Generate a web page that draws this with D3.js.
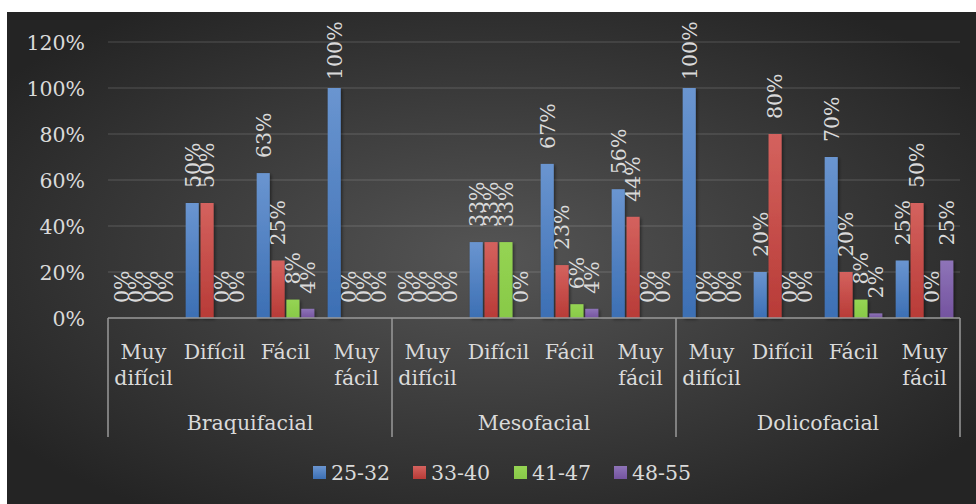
<!DOCTYPE html>
<html>
<head>
<meta charset="utf-8">
<script src="https://cdn.jsdelivr.net/npm/d3@7"></script>
<style>
  html, body { margin: 0; padding: 0; background: #ffffff; }
  svg { display: block; }
  svg text { font-family: "DejaVu Serif", serif; fill: #dadada; }
</style>
</head>
<body>
<svg id="chart" width="976" height="504"></svg>
<script>
// Facial types (outer groups) and difficulty levels (inner categories)
const groups = ["Braquifacial", "Mesofacial", "Dolicofacial"];
const levels = [["Muy", "difícil"], ["Difícil"], ["Fácil"], ["Muy", "fácil"]];
// Age ranges (series)
const series = ["25-32", "33-40", "41-47", "48-55"];
const seriesColors = [
  ["#6a95d0", "#3c6fb4"],
  ["#d4625e", "#b83b37"],
  ["#95d453", "#88c948"],
  ["#8e74b8", "#74539f"]
];
// Percentages per age range, listed group by group, level by level
const s2532 = [0, 50, 63, 100,  0, 33, 67, 56,  100, 20, 70, 25];
const s3340 = [0, 50, 25, 0,    0, 33, 23, 44,  0, 80, 20, 50];
const s4147 = [0, 0, 8, 0,      0, 33, 6, 0,    0, 0, 8, 0];
const s4855 = [0, 0, 4, 0,      0, 0, 4, 0,     0, 0, 2, 25];
const yTicks = [0, 20, 40, 60, 80, 100, 120];

const allSeries = [s2532, s3340, s4147, s4855];
const FONT = '"DejaVu Serif", serif';
const FS = 20.5;

const svg = d3.select("#chart");
const defs = svg.append("defs");

// Dark radial background
const bg = defs.append("radialGradient").attr("id", "bgGrad")
  .attr("cx", "50%").attr("cy", "50%").attr("r", "62%");
bg.append("stop").attr("offset", "0%").attr("stop-color", "#555555");
bg.append("stop").attr("offset", "100%").attr("stop-color", "#242424");
svg.append("rect").attr("x", 7).attr("y", 12).attr("width", 969).attr("height", 492)
  .attr("fill", "url(#bgGrad)");

seriesColors.forEach((c, i) => {
  const g = defs.append("linearGradient").attr("id", "barGrad" + i)
    .attr("x1", 0).attr("y1", 0).attr("x2", 0).attr("y2", 1);
  g.append("stop").attr("offset", "0%").attr("stop-color", c[0]);
  g.append("stop").attr("offset", "100%").attr("stop-color", c[1]);
});
const shadow = defs.append("filter").attr("id", "barShadow")
  .attr("x", "-50%").attr("y", "-10%").attr("width", "200%").attr("height", "130%");
shadow.append("feDropShadow").attr("dx", 1.5).attr("dy", 1.5).attr("stdDeviation", 1.5)
  .attr("flood-color", "#000").attr("flood-opacity", 0.45);

const plotLeft = 108, plotRight = 960, plotTop = 42, plotBottom = 318;

// Flat category list: 3 groups x 4 levels
const cats = [];
groups.forEach((g, gi) => levels.forEach((l, li) => cats.push({ g, gi, l, li, key: gi + "-" + li })));

const x = d3.scaleBand().domain(cats.map(c => c.key)).range([plotLeft, plotRight]).padding(0);
const xs = d3.scaleBand().domain(series).range([0, x.bandwidth()])
  .paddingInner(0.12).paddingOuter(0.45);
const y = d3.scaleLinear().domain([0, 120]).range([plotBottom, plotTop]);

// Gridlines
svg.append("g").selectAll("line").data(yTicks.filter(t => t > 0)).join("line")
  .attr("x1", plotLeft).attr("x2", plotRight)
  .attr("y1", d => y(d)).attr("y2", d => y(d))
  .attr("stroke", "rgba(255,255,255,0.12)").attr("stroke-width", 1.5);

// Y axis labels
const yAxis = d3.axisLeft(y).tickValues(yTicks).tickFormat(d => d + "%").tickSize(0).tickPadding(0);
const yG = svg.append("g").attr("transform", "translate(85,0)").call(yAxis)
  .attr("font-family", null).attr("font-size", null);
yG.select(".domain").remove();
yG.selectAll("text").attr("font-size", FS).attr("fill", "#dadada")
  .style("font-family", FONT).attr("dy", "0.36em");

// Bars
const barData = [];
cats.forEach((c, ci) => series.forEach((s, si) => barData.push({ c, s, si, v: allSeries[si][ci] })));

svg.append("g").selectAll("rect").data(barData.filter(d => d.v > 0)).join("rect")
  .attr("x", d => x(d.c.key) + xs(d.s))
  .attr("width", xs.bandwidth())
  .attr("y", d => y(d.v))
  .attr("height", d => y(0) - y(d.v))
  .attr("fill", d => "url(#barGrad" + d.si + ")")
  .attr("filter", "url(#barShadow)");

// Rotated value labels above each bar
svg.append("g").selectAll("text").data(barData).join("text")
  .attr("transform", d => {
    const cx = x(d.c.key) + xs(d.s) + xs.bandwidth() / 2;
    let ty = y(d.v) - 15;
    ty = Math.max(ty, 80);
    return `translate(${cx},${ty}) rotate(-90)`;
  })
  .attr("font-size", FS)
  .style("font-family", FONT)
  .attr("dy", "0.36em")
  .attr("text-anchor", "start")
  .text(d => d.v + "%");

// Axis line and group separators
const axisCol = "#9a9a9a";
svg.append("line").attr("x1", plotLeft).attr("x2", plotRight).attr("y1", plotBottom).attr("y2", plotBottom)
  .attr("stroke", axisCol).attr("stroke-width", 1.5);
const seps = groups.map((g, gi) => x(gi + "-0")).concat([plotRight]);
svg.append("g").selectAll("line").data(seps).join("line")
  .attr("x1", d => d).attr("x2", d => d).attr("y1", plotBottom).attr("y2", 437)
  .attr("stroke", axisCol).attr("stroke-width", 1.5);

// Level labels (possibly two lines)
const catG = svg.append("g").selectAll("text").data(cats).join("text")
  .attr("text-anchor", "middle").attr("font-size", FS).style("font-family", FONT);
catG.each(function (d) {
  const t = d3.select(this);
  d.l.forEach((line, i) => {
    t.append("tspan").attr("x", x(d.key) + x.bandwidth() / 2)
      .attr("y", 359 + i * 26).text(line);
  });
});

// Group labels
svg.append("g").selectAll("text").data(groups).join("text")
  .attr("x", (g, gi) => (seps[gi] + seps[gi + 1]) / 2)
  .attr("y", 430).attr("text-anchor", "middle").attr("font-size", FS)
  .style("font-family", FONT)
  .text(d => d);

// Legend
const legendX = [313, 413, 514, 614];
const lg = svg.append("g").selectAll("g").data(series).join("g")
  .attr("transform", (d, i) => `translate(${legendX[i]},466)`);
lg.append("rect").attr("width", 13).attr("height", 13)
  .attr("fill", (d, i) => "url(#barGrad" + i + ")");
lg.append("text").attr("x", 18).attr("y", 14).attr("font-size", FS)
  .style("font-family", FONT).text(d => d);
</script>
</body>
</html>
